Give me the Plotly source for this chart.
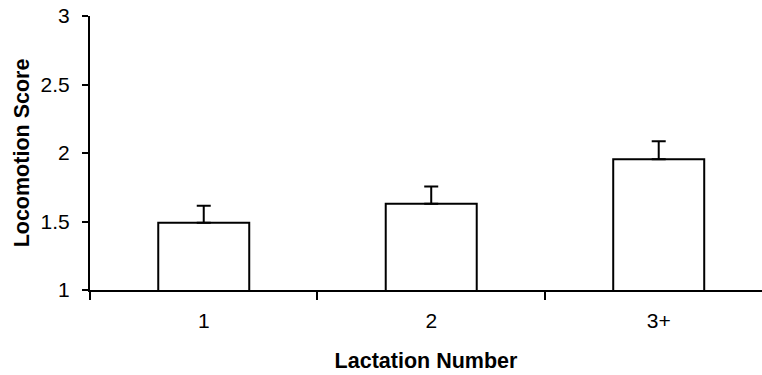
import plotly.graph_objects as go

categories = ["1", "2", "3+"]
scores = [1.49, 1.63, 1.955]
errors = [0.125, 0.125, 0.13]

FONT = "Liberation Sans, Arial, sans-serif"

fig = go.Figure(
    go.Bar(
        x=categories,
        y=scores,
        width=0.4,
        marker=dict(color="white", line=dict(color="black", width=2)),
        error_y=dict(type="data", array=errors, arrayminus=[0] * len(errors),
                     symmetric=False, color="black", thickness=2, width=7),
    )
)

fig.update_layout(
    width=762, height=375,
    margin=dict(l=90, r=0, t=16, b=85),
    paper_bgcolor="white", plot_bgcolor="white",
    showlegend=False,
    font=dict(family=FONT, color="black", size=21),
    xaxis=dict(
        type="category", range=[-0.5, 2.454],
        showline=True, linecolor="black", linewidth=2,
        ticks="outside", tickson="boundaries", ticklen=8, tickwidth=2, tickcolor="black",
        showgrid=False, zeroline=False,
        tickfont=dict(size=21, family=FONT),
        ticklabelstandoff=11,
        title=dict(text="<b>Lactation Number</b>", font=dict(size=21.5, family=FONT), standoff=22),
    ),
    yaxis=dict(
        range=[1, 3], dtick=0.5, tick0=1,
        showline=True, linecolor="black", linewidth=2,
        ticks="outside", ticklen=6, tickwidth=2, tickcolor="black",
        showgrid=False, zeroline=False,
        tickfont=dict(size=21, family=FONT),
        ticklabelstandoff=8,
        title=dict(text="<b>Locomotion Score</b>", font=dict(size=21.5, family=FONT), standoff=5),
    ),
)

fig.write_html("out.html")
